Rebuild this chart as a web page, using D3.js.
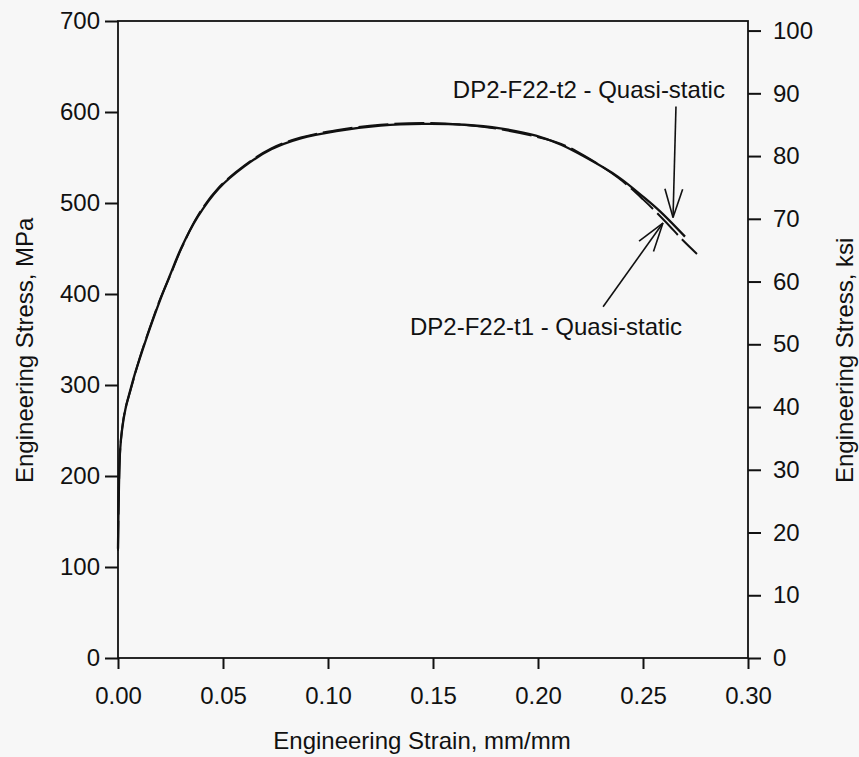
<!DOCTYPE html>
<html>
<head>
<meta charset="utf-8">
<script src="https://cdn.jsdelivr.net/npm/d3@7"></script>
<style>
  body { margin: 0; background: #f7f7f7; }
  svg { display: block; }
  text { font-family: "Liberation Sans", Arial, sans-serif; fill: #111; }
</style>
</head>
<body>
<div id="viz"></div>
<script>
// strain (mm/mm) and stress (MPa)
const strainT1 = [0.000, 0.0003, 0.001, 0.002, 0.0035, 0.0057, 0.008, 0.0105, 0.015, 0.020, 0.025, 0.030, 0.038, 0.048, 0.060, 0.073, 0.087, 0.104, 0.125, 0.145, 0.165, 0.182, 0.199, 0.211, 0.222, 0.238, 0.250, 0.258, 0.270];
const stressT1 = [120, 170, 228, 252, 273, 293, 312, 330, 361, 393, 422, 450, 485, 516, 540, 559, 571, 579, 585, 587, 586, 582, 574, 564, 551, 529, 507, 491, 463];

const strainT2 = [0.000, 0.0003, 0.001, 0.002, 0.0035, 0.0057, 0.008, 0.0105, 0.015, 0.020, 0.025, 0.030, 0.038, 0.048, 0.060, 0.073, 0.087, 0.104, 0.125, 0.145, 0.165, 0.182, 0.199, 0.211, 0.222, 0.238, 0.250, 0.2605, 0.269, 0.2757];
const stressT2 = [118, 168, 227, 253, 274, 292, 311, 331, 362, 394, 421, 449, 486, 517, 541, 560, 572, 580, 586, 588, 586, 581, 573, 565, 552, 528, 504, 480, 459, 444];

const xTicks = [0, 0.05, 0.10, 0.15, 0.20, 0.25, 0.30];
const mpaTicks = [0, 100, 200, 300, 400, 500, 600, 700];
const ksiTicks = [0, 10, 20, 30, 40, 50, 60, 70, 80, 90, 100];

const labelT1 = 'DP2-F22-t1 - Quasi-static';
const labelT2 = 'DP2-F22-t2 - Quasi-static';
// annotation anchors in data units: [strain, stress]
const arrowT1 = {tail: [0.231, 386], tip: [0.2595, 478], text: [0.2686, 355]};
const arrowT2 = {tail: [0.2657, 606], tip: [0.2643, 484], text: [0.289, 615]};

const MPA_PER_KSI = 6.894757;

const W = 859, H = 757,
    margin = {top: 21, right: 111, bottom: 99, left: 118};

const x = d3.scaleLinear().domain([0, 0.30]).range([margin.left, W - margin.right]);
const y = d3.scaleLinear().domain([0, 700]).range([H - margin.bottom, margin.top]);
const yKsi = d3.scaleLinear().domain([0, 700 / MPA_PER_KSI]).range([H - margin.bottom, margin.top]);

const svg = d3.select('#viz').append('svg')
    .attr('width', W)
    .attr('height', H);

const fontSize = 24;

// axes
const xAxis = svg.append('g')
    .attr('transform', `translate(0,${y(0)})`)
    .call(d3.axisBottom(x).tickValues(xTicks).tickFormat(d3.format('.2f')).tickSize(11).tickPadding(20));

const yAxis = svg.append('g')
    .attr('transform', `translate(${x(0)},0)`)
    .call(d3.axisLeft(y).tickValues(mpaTicks).tickSize(13).tickPadding(5));

const yAxisR = svg.append('g')
    .attr('transform', `translate(${x(0.30)},0)`)
    .call(d3.axisRight(yKsi).tickValues(ksiTicks).tickSize(13).tickPadding(12));

[xAxis, yAxis, yAxisR].forEach(g => {
    g.select('.domain').remove();
    g.selectAll('.tick line').attr('stroke', '#111').attr('stroke-width', 2);
    g.selectAll('.tick text').attr('font-size', fontSize).attr('fill', '#111')
        .style('font-family', '"Liberation Sans", Arial, sans-serif');
});
xAxis.selectAll('.tick text').attr('dy', '0.62em');

// frame
svg.append('rect')
    .attr('x', x(0)).attr('y', y(700))
    .attr('width', x(0.30) - x(0)).attr('height', y(0) - y(700))
    .attr('fill', 'none').attr('stroke', '#111').attr('stroke-width', 1.8);

// titles
svg.append('text')
    .attr('x', 422).attr('y', 749)
    .attr('text-anchor', 'middle').attr('font-size', fontSize)
    .text('Engineering Strain, mm/mm');

svg.append('text')
    .attr('transform', 'translate(33,483) rotate(-90)')
    .attr('text-anchor', 'start').attr('font-size', fontSize)
    .text('Engineering Stress, MPa');

svg.append('text')
    .attr('transform', 'translate(853,483) rotate(-90)')
    .attr('text-anchor', 'start').attr('font-size', fontSize)
    .text('Engineering Stress, ksi');

// curves
const line = d3.line()
    .x(d => x(d[0]))
    .y(d => y(d[1]))
    .curve(d3.curveCatmullRom.alpha(0.5));

svg.append('path')
    .datum(d3.zip(strainT1, stressT1))
    .attr('d', line)
    .attr('fill', 'none').attr('stroke', '#111').attr('stroke-width', 2.3);

svg.append('path')
    .datum(d3.zip(strainT2, stressT2))
    .attr('d', line)
    .attr('fill', 'none').attr('stroke', '#111').attr('stroke-width', 2)
    .attr('stroke-dasharray', '30,6');

// annotations
function arrow(a, label) {
    const x0 = x(a.tail[0]), y0 = y(a.tail[1]),
        x1 = x(a.tip[0]), y1 = y(a.tip[1]);
    const ang = Math.atan2(y1 - y0, x1 - x0),
        len = 30, spread = 0.3;
    const g = svg.append('g').attr('stroke', '#111').attr('stroke-width', 1.6).attr('fill', 'none');
    g.append('line').attr('x1', x0).attr('y1', y0).attr('x2', x1).attr('y2', y1);
    [-spread, spread].forEach(s => {
        g.append('line')
            .attr('x1', x1).attr('y1', y1)
            .attr('x2', x1 - len * Math.cos(ang + s))
            .attr('y2', y1 - len * Math.sin(ang + s));
    });
    svg.append('text')
        .attr('x', x(a.text[0])).attr('y', y(a.text[1]))
        .attr('text-anchor', 'end').attr('font-size', fontSize)
        .text(label);
}

arrow(arrowT1, labelT1);
arrow(arrowT2, labelT2);
</script>
</body>
</html>
